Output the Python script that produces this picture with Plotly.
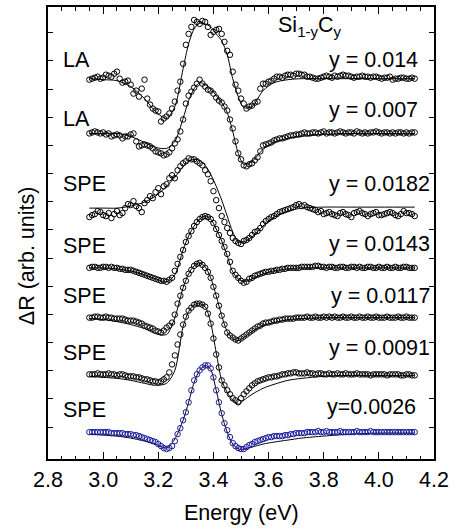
import plotly.graph_objects as go

# Photon energy of the measured points (eV)
energy = [2.95, 2.96, 2.97, 2.98, 2.99, 3.00, 3.01, 3.02, 3.03, 3.04,
          3.05, 3.06, 3.07, 3.08, 3.09, 3.10, 3.11, 3.12, 3.13, 3.14,
          3.15, 3.16, 3.17, 3.18, 3.19, 3.20, 3.21, 3.22, 3.23, 3.24,
          3.25, 3.26, 3.27, 3.28, 3.29, 3.30, 3.31, 3.32, 3.33, 3.34,
          3.35, 3.36, 3.37, 3.38, 3.39, 3.40, 3.41, 3.42, 3.43, 3.44,
          3.45, 3.46, 3.47, 3.48, 3.49, 3.50, 3.51, 3.52, 3.53, 3.54,
          3.55, 3.56, 3.57, 3.58, 3.59, 3.60, 3.61, 3.62, 3.63, 3.64,
          3.65, 3.66, 3.67, 3.68, 3.69, 3.70, 3.71, 3.72, 3.73, 3.74,
          3.75, 3.76, 3.77, 3.78, 3.79, 3.80, 3.81, 3.82, 3.83, 3.84,
          3.85, 3.86, 3.87, 3.88, 3.89, 3.90, 3.91, 3.92, 3.93, 3.94,
          3.95, 3.96, 3.97, 3.98, 3.99, 4.00, 4.01, 4.02, 4.03, 4.04,
          4.05, 4.06, 4.07, 4.08, 4.09, 4.10, 4.11, 4.12, 4.13]

# Measured dR (arb. units, relative to each curve's baseline)
dR_LA_0014 = [-1, 0, 1, 2, 0, 1, 4, 3, 2, 5,
              7, 0, -4, -3, -2, -6, -15, -12, -18, -10,
              -1, -20, -26, -30, -32, -33, -43, -40, -38, -35,
              -30, -23, -12, -3, 15, 34, 45, 52, 59, 57,
              55, 58, 57, 52, 44, 47, 49, 50, 45, 37,
              28, 24, 7, -6, -12, -20, -25, -30, -28, -27,
              -24, -23, -10, -5, -5, -3, -2, 0, 2, 2,
              1, 3, 4, 4, 3, 5, 5, 4, 4, 2,
              2, 1, 0, 0, 1, 2, 3, 2, 1, 3,
              2, 3, 4, 3, 3, 2, 1, 2, 2, 3,
              2, 2, 1, 2, 2, 1, 0, 1, 1, 2,
              -1, 0, 0, 1, 1, 0, 0, 1, 0]
dR_LA_0007 = [0, 1, 2, 1, 0, 1, -1, 0, -3, -2,
              -1, -2, -5, -3, -3, -1, 0, -8, -13, -12,
              -11, -12, -13, -15, -18, -19, -20, -22, -21, -19,
              -15, -10, -6, 2, 14, 30, 38, 42, 46, 50,
              54, 50, 47, 44, 43, 40, 36, 33, 31, 27,
              23, 14, 5, -8, -20, -26, -32, -33, -31, -30,
              -27, -24, -18, -12, -11, -10, -9, -7, -6, -5,
              -5, -4, -3, -2, -2, -1, -1, 0, 1, 0,
              0, 1, 1, 0, 1, 2, 0, 1, 1, 0,
              1, 2, 1, 0, 1, 1, 0, 2, 1, 0,
              1, 0, 1, 1, 2, 1, 0, 1, 1, 0,
              1, 0, 1, 1, 0, 1, 0, 1, 1]
dR_SPE_0182 = [-9, -7, -6, -3, -4, -7, -8, -5, -10, -6,
               -3, -7, -5, 0, 4, 3, 7, 2, 0, -4,
               5, 8, 12, 10, 16, 20, 14, 22, 24, 30,
               33, 30, 38, 42, 45, 47, 50, 49, 49, 47,
               45, 43, 38, 34, 27, 17, 8, 0, -8, -14,
               -20, -25, -30, -33, -35, -36, -33, -32, -30, -27,
               -24, -23, -20, -16, -13, -11, -9, -8, -6, -4,
               -3, -2, -1, 0, 1, 3, 4, 2, 3, 1,
               0, -1, -2, -4, -3, -6, -5, -4, -6, -7,
               -8, -5, -4, -6, -7, -9, -5, -4, -3, -5,
               -6, -8, -6, -5, -4, -7, -7, -6, -5, -4,
               -5, -7, -8, -6, -3, -5, -5, -6, -8]
dR_SPE_0143 = [0, 1, 1, 0, 0, 1, 1, 0, 1, 0,
               0, -1, -1, -2, -2, -2, -3, -4, -5, -6,
               -7, -8, -9, -10, -11, -12, -13, -13, -14, -12,
               -10, -3, 4, 11, 18, 26, 32, 37, 42, 46,
               49, 51, 52, 51, 49, 45, 39, 33, 27, 21,
               14, 6, -3, -7, -10, -13, -15, -14, -11, -10,
               -8, -7, -6, -5, -4, -4, -3, -3, -2, -2,
               -1, -1, 0, 0, 0, 0, 0, 1, 1, 1,
               1, 1, 2, 2, 1, 1, 0, 1, 1, 0,
               0, 1, 1, 0, 0, 1, 1, 0, 1, 0,
               0, 1, 1, 0, 0, 1, 0, 0, 1, 0,
               0, 1, 0, 0, 1, 1, 0, 0, 0]
dR_SPE_0117 = [0, 0, 1, 1, 0, 0, 1, 0, 0, -1,
               -1, -1, -1, -2, -3, -3, -3, -4, -5, -6,
               -8, -9, -10, -11, -13, -14, -15, -13, -10, -8,
               -5, 3, 14, 22, 30, 37, 44, 48, 52, 54,
               55, 53, 50, 46, 40, 31, 22, 12, 2, -7,
               -15, -18, -20, -22, -23, -21, -19, -17, -15, -13,
               -11, -9, -8, -6, -5, -5, -4, -3, -3, -2,
               -2, -1, -1, -1, -1, 0, 0, 0, 0, 1,
               0, 0, 1, 0, 0, 1, 0, 1, 0, 1,
               0, 0, 1, 0, 0, 1, 0, 0, 1, 0,
               0, 1, 0, 0, 1, 0, 0, 0, 1, 0,
               0, 0, 1, 0, 0, 1, 0, 0, 0]
dR_SPE_0091 = [0, 0, 0, 1, 0, 0, 0, 1, 0, 0,
               -1, 0, 0, -1, -2, -2, -2, -3, -3, -4,
               -5, -5, -6, -7, -7, -8, -7, -5, -3, 2,
               10, 19, 30, 40, 50, 58, 64, 67, 70, 71,
               71, 70, 68, 61, 51, 36, 20, 7, -6, -11,
               -16, -20, -24, -26, -28, -24, -20, -17, -14, -11,
               -9, -7, -6, -5, -4, -3, -3, -2, -2, -1,
               0, 0, 1, 1, 2, 2, 1, 1, 1, 2,
               1, 1, 0, 1, 1, 0, 0, 1, 0, 0,
               1, 0, 0, 1, 0, 0, 0, 1, 0, 0,
               0, 0, -1, 0, 0, 0, 0, 0, -1, 0,
               0, 0, 0, -1, -1, 0, 0, -1, -1]
dR_SPE_0026 = [0, 0, 0, 0, 0, 0, 0, 0, -1, -1,
               -1, -1, -1, -2, -2, -2, -3, -3, -4, -5,
               -6, -7, -8, -9, -10, -12, -14, -16, -17, -16,
               -14, -9, -2, 4, 12, 20, 30, 42, 52, 58,
               62, 65, 67, 67, 64, 55, 42, 30, 19, 9,
               2, -5, -11, -14, -16, -17, -17, -15, -13, -12,
               -10, -9, -8, -7, -6, -5, -5, -4, -4, -4,
               -4, -3, -3, -2, -2, -1, -1, -1, -1, 0,
               0, 0, 0, 1, 0, 0, 1, 0, 0, 0,
               0, 1, 0, 0, 0, 0, 0, 1, 0, 0,
               0, 0, 1, 0, 0, 0, 0, 0, 0, 0,
               0, 0, 0, 0, 0, 0, 0, 0, 0]

# Fitted line shapes
fit_energy = [2.95, 3.00, 3.05, 3.10, 3.15, 3.19, 3.23, 3.26, 3.29, 3.31, 3.33, 3.35, 3.37, 3.39,
              3.41, 3.43, 3.45, 3.47, 3.49, 3.51, 3.54, 3.58, 3.62, 3.67, 3.72, 3.80, 3.90, 4.00, 4.13]
fit_LA_0014 = [0, -1, -2, -8, -20, -33, -40, -28, 10, 35, 50, 56, 55, 52,
               45, 38, 24, 0, -18, -29, -28, -12, -4, -1, 0, 0, 0, 0, 0]
fit_LA_0007 = [0, 0, 0, -3, -9, -14, -15, -8, 15, 33, 45, 51, 49, 45,
               38, 31, 21, 2, -20, -31, -28, -16, -9, -5, -3, -1, 0, 0, 0]
fit_SPE_0182 = [0, 0, 0, 2, 6, 12, 22, 31, 42, 47, 49, 48, 43, 34,
                22, 8, -8, -24, -34, -34, -29, -18, -9, -3, 0, 1, 1, 1, 1]
fit_SPE_0143 = [0, 0, -1, -3, -7, -11, -14, -7, 18, 32, 42, 49, 52, 49,
                39, 27, 12, -4, -11, -14, -11, -6, -3, -1, 0, 0, 0, 0, 0]
fit_SPE_0117 = [-1, -2, -4, -7, -11, -16, -17, 0, 30, 44, 52, 55, 51, 40,
                22, 2, -14, -21, -23, -20, -14, -8, -5, -2, -1, 0, 0, 0, 0]
fit_SPE_0091 = [-2, -3, -4, -6, -9, -11, -9, 4, 48, 63, 70, 71, 68, 52,
                22, -6, -18, -26, -30, -26, -20, -14, -10, -6, -4, -2, -1, -1, -1]
fit_SPE_0026 = [-2, -3, -4, -6, -9, -12, -16, -7, 12, 30, 50, 62, 67, 63,
                42, 18, 0, -12, -17, -17, -15, -12, -10, -8, -6, -4, -2, -1, -1]

# Vertical offsets of the stacked curves, sample labels
offsets = [382, 327, 252, 192, 142, 85, 27]
left_labels = ["LA", "LA", "SPE", "SPE", "SPE", "SPE", "SPE"]
right_labels = ["y = 0.014", "y = 0.007", "y = 0.0182", "y = 0.0143",
                "y = 0.0117", "y = 0.0091", "y=0.0026"]
data_series = [dR_LA_0014, dR_LA_0007, dR_SPE_0182, dR_SPE_0143, dR_SPE_0117, dR_SPE_0091, dR_SPE_0026]
fit_series = [fit_LA_0014, fit_LA_0007, fit_SPE_0182, fit_SPE_0143, fit_SPE_0117, fit_SPE_0091, fit_SPE_0026]
x_ticks = [2.8, 3.0, 3.2, 3.4, 3.6, 3.8, 4.0, 4.2]
x_tick_labels = ["2.8", "3.0", "3.2", "3.4", "3.6", "3.8", "4.0", "4.2"]

FONT = "Liberation Sans, Arial, sans-serif"
FS = 21.5
marker_colors = ["black"] * 6 + ["#1c1c9c"]

fig = go.Figure()
for i in range(len(offsets)):
    off = offsets[i]
    fig.add_trace(go.Scatter(
        x=fit_energy, y=[off + v for v in fit_series[i]], mode="lines",
        line=dict(color="black", width=1, shape="spline", smoothing=0.8),
        showlegend=False, hoverinfo="skip"))
    fig.add_trace(go.Scatter(
        x=energy, y=[off + v for v in data_series[i]], mode="markers",
        marker=dict(symbol="circle-open", size=5.5, color=marker_colors[i], line=dict(width=1)),
        showlegend=False))

# label positions, chosen from the picture
left_label_y = [401, 342, 276, 214, 164, 106, 49]
right_label_y = [401, 351, 276, 216, 164, 111, 52]
right_label_xp = [0.963, 0.963, 0.994, 0.994, 0.994, 0.994, 0.958]
for i in range(len(offsets)):
    fig.add_annotation(x=2.847, y=left_label_y[i], text=left_labels[i], showarrow=False,
                       xanchor="left", yanchor="middle", font=dict(size=FS, color="black", family=FONT))
    fig.add_annotation(xref="paper", x=right_label_xp[i], y=right_label_y[i], text=right_labels[i],
                       showarrow=False, xanchor="right", yanchor="middle",
                       font=dict(size=FS, color="black", family=FONT))

fig.add_annotation(x=3.75, y=434, text="Si<sub>1-y</sub>C<sub>y</sub>", showarrow=False,
                   xanchor="center", yanchor="middle", font=dict(size=FS, color="black", family=FONT))

fig.add_annotation(xref="paper", yref="paper", x=-0.054, y=0.449, text="ΔR (arb. units)",
                   textangle=-90, showarrow=False, xanchor="center", yanchor="middle",
                   font=dict(size=FS, color="black", family=FONT))
fig.add_annotation(xref="paper", yref="paper", x=0.5, y=-0.119, text="Energy (eV)",
                   showarrow=False, xanchor="center", yanchor="middle",
                   font=dict(size=FS, color="black", family=FONT))

fig.update_xaxes(range=[2.8, 4.2], tickvals=x_ticks, ticktext=x_tick_labels,
                 ticks="inside", ticklen=7, tickwidth=1, tickcolor="black",
                 minor=dict(dtick=0.05, ticks="inside", ticklen=3.5, tickcolor="black", tickwidth=1),
                 showline=True, linecolor="black", linewidth=2, mirror="allticks",
                 showgrid=False, zeroline=False,
                 tickfont=dict(size=FS, color="black", family=FONT))
fig.update_yaxes(range=[0, 454], tickvals=[32 + 28.3 * k for k in range(15)],
                 showticklabels=False, ticks="inside", ticklen=5, tickwidth=1, tickcolor="black",
                 showline=True, linecolor="black", linewidth=2, mirror="allticks",
                 showgrid=False, zeroline=False)

fig.update_layout(width=454, height=529, margin=dict(l=48, r=15, t=5, b=70),
                  plot_bgcolor="white", paper_bgcolor="white", font=dict(family=FONT, color="black"))

fig.write_html("out.html", config={"displayModeBar": False},
               post_script="document.body.style.margin='0';document.body.style.overflow='hidden';")
